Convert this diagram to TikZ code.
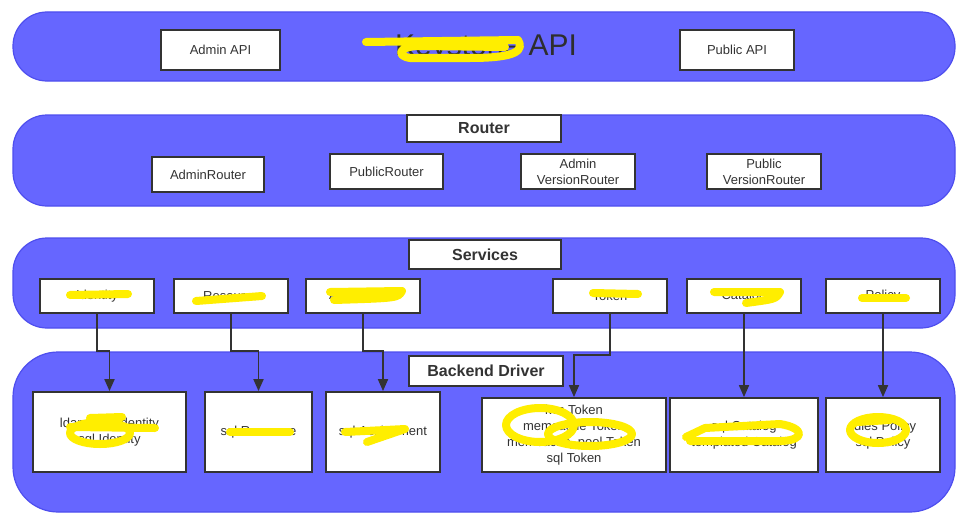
\documentclass[tikz,border=0pt]{standalone}
\usepackage{fontspec}
\setmainfont{Liberation Sans}
\usetikzlibrary{arrows.meta, positioning, calc}
\definecolor{layerblue}{RGB}{102,102,255}
\definecolor{layeredge}{RGB}{78,78,238}
\definecolor{boxedge}{RGB}{51,51,51}
\definecolor{scrib}{RGB}{255,238,0}

\tikzset{
    layer/.style={fill=layerblue, draw=layeredge, line width=1.2pt, rounded corners=34pt},
    box/.style={draw=boxedge, fill=white, line width=1.8pt, inner sep=0pt, text=boxedge,
        align=center, font=\fontsize{13}{16}\selectfont},
    title/.style={box, font=\fontsize{16}{19}\selectfont\bfseries},
    arrow/.style={draw=boxedge, line width=1.8pt, -{Triangle[length=12pt,width=10pt]}},
    scribble/.style={draw=scrib, line width=8pt, line cap=round, line join=round},
}

\begin{document}
\begin{tikzpicture}[x=1pt, y=-1pt]
    \useasboundingbox (0,0) rectangle (965,519);

    % Layers
    \draw[layer] (13,12) rectangle (955,81);
    \draw[layer] (13,115) rectangle (955,206);
    \draw[layer] (13,238) rectangle (955,328);
    \draw[layer, rounded corners=45pt] (13,352) rectangle (955,512);

    % API layer
    \node[box, minimum width=119, minimum height=40] (adminapi) at (220.5,50) {Admin API};
    \node[box, minimum width=114, minimum height=40] (publicapi) at (737,50) {Public API};
    \node[text=boxedge!90!black, font=\fontsize{30}{32}\selectfont] (keystone) at (486,48) {Keystone API};

    % Router layer
    \node[title, minimum width=154, minimum height=27] (router) at (484,128.5) {Router};
    \node[box, minimum width=112, minimum height=35] (adminrouter) at (208,174.5) {AdminRouter};
    \node[box, minimum width=113, minimum height=35] (publicrouter) at (386.5,171.5) {PublicRouter};
    \node[box, minimum width=114, minimum height=35] (adminver) at (578,171.5) {Admin\\VersionRouter};
    \node[box, minimum width=114, minimum height=35] (publicver) at (764,171.5) {Public\\VersionRouter};

    % Services layer
    \node[title, minimum width=152, minimum height=29] (services) at (485,254.5) {Services};
    \node[box, minimum width=114, minimum height=34] (identity) at (97,296) {Identity};
    \node[box, minimum width=114, minimum height=34] (resource) at (231,296) {Resource};
    \node[box, minimum width=114, minimum height=34] (assignment) at (363,296) {Assignment};
    \node[box, minimum width=114, minimum height=34] (token) at (610,296) {Token};
    \node[box, minimum width=114, minimum height=34] (catalog) at (744,296) {Catalog};
    \node[box, minimum width=114, minimum height=34] (policy) at (883,296) {Policy};

    % Backend layer
    \node[title, minimum width=154, minimum height=30] (backend) at (486,371) {Backend Driver};
    \node[box, minimum width=153, minimum height=80] (idbk) at (109.5,432) {ldap core Identity\\sql Identity};
    \node[box, minimum width=107, minimum height=80] (resbk) at (258.5,432) {sql Resource};
    \node[box, minimum width=114, minimum height=80] (asgbk) at (383,432) {sql Assignment};
    \node[box, minimum width=184, minimum height=74] (tokbk) at (574,435) {kvs Token\\memcache Token\\memcache\_pool Token\\sql Token};
    \node[box, minimum width=148, minimum height=74] (catbk) at (744,435) {sql Catalog\\templated Catalog};
    \node[box, minimum width=114, minimum height=74] (polbk) at (883,435) {rules Policy\\sql Policy};

    % Connectors
    \draw[arrow] (identity.south) |- ($(idbk.north)+(0,-40)$) -- (idbk.north);
    \draw[arrow] (resource.south) |- ($(resbk.north)+(0,-40)$) -- (resbk.north);
    \draw[arrow] (assignment.south) |- ($(asgbk.north)+(0,-40)$) -- (asgbk.north);
    \draw[arrow] (token.south) |- ($(tokbk.north)+(0,-42)$) -- (tokbk.north);
    \draw[arrow] (catalog.south) -- (catbk.north);
    \draw[arrow] (policy.south) -- (polbk.north);

    % Scribbles
    \draw[scribble] (366,42) -- (518,40) .. controls (524,50) and (518,58) .. (470,58) -- (410,58)
        .. controls (396,56) and (398,46) .. (420,46) -- (505,47);
    \draw[scribble] (70,295) -- (128,294);
    \draw[scribble] (196,301) -- (262,296);
    \draw[scribble] (330,292) -- (402,291) .. controls (398,298) .. (334,300);
    \draw[scribble] (593,293) -- (638,294);
    \draw[scribble] (714,292) -- (780,292) .. controls (776,299) .. (746,303);
    \draw[scribble] (862,298) -- (906,298);
    \draw[scribble] (70,427) -- (155,428);
    \draw[scribble] (100,433) ellipse (30 and 11);
    \draw[scribble] (90,418) -- (122,417);
    \draw[scribble] (230,432) -- (290,432);
    \draw[scribble] (345,432) -- (405,429) -- (367,442);
    \draw[scribble] (540,425) ellipse (34 and 17);
    \draw[scribble] (590,434) ellipse (42 and 12);
    \draw[scribble] (686,437) -- (705,428) -- (780,424) .. controls (805,428) and (805,440) .. (782,441) -- (690,441);
    \draw[scribble] (878,430) ellipse (28 and 13);
    \draw[scribble] (858,422) -- (890,420);
\end{tikzpicture}
\end{document}
